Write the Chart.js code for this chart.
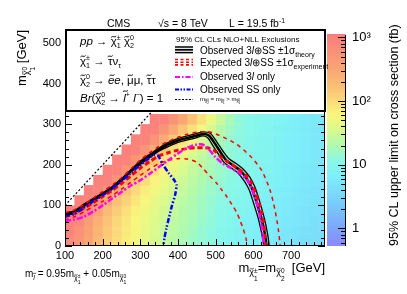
<!DOCTYPE html>
<html>
<head>
<meta charset="utf-8">
<script src="https://cdn.jsdelivr.net/npm/chart.js@4.4.0/dist/chart.umd.min.js"></script>
<style>
  html, body { margin: 0; padding: 0; background: #fff; }
</style>
</head>
<body>
<canvas id="chart" width="407" height="294"></canvas>
<script>
// axis ticks
const xTicks = [100, 200, 300, 400, 500, 600, 700];
const yTicks = [0, 100, 200, 300, 400, 500];
const zTicks = [1, 10, 100, 1000];
const zLabels = ['1', '10', '10²', '10³'];

// heat map cells (lower edges, GeV), 25 GeV wide
const cellX = [100,125,150,175,200,225,250,275,300,325,350,375,400,425,450,475,500,525,550,575,600,625,650,675,700,725,750,775];
const cellY = [0,25,50,75,100,125,150,175,200,225,250,275,300];
const cellSize = 25;
const n = null;
// upper limit on cross section (fb), one row per cellY
const r0   = [750,550,330,200,130,95,72,56,43,34,28,23,19,16,14,12,10,9,8,7,6.5,6,5.5,5,4.5,4.2,4,3.8];
const r25  = [850,600,360,220,140,100,76,59,46,36,29,24,20,17,14,12,10.5,9.5,8.5,7.5,6.8,6.2,5.7,5.2,4.8,4.4,4.1,3.9];
const r50  = [950,750,420,250,160,105,80,62,48,38,31,25,21,18,15,13,11,10,9,8,7,6.4,5.9,5.4,5,4.6,4.3,4];
const r75  = [1000,950,650,330,190,125,90,68,52,41,33,27,22,19,16,13.5,11.5,10.5,9.5,8.5,7.5,6.8,6.2,5.6,5.2,4.8,4.5,4.2];
const r100 = [n,1000,900,600,300,170,115,80,60,46,36,29,24,20,17,14,12,11,10,9,8,7,6.4,5.8,5.4,5,4.6,4.3];
const r125 = [n,n,1000,900,550,270,155,100,72,54,42,33,27,22,18,15,13,11.5,10.5,9.5,8.5,7.5,6.8,6.1,5.6,5.2,4.8,4.5];
const r150 = [n,n,n,1000,900,550,270,145,95,66,50,38,30,24,20,16,14,12,11,10,9,8,7.2,6.5,5.9,5.4,5,4.7];
const r175 = [n,n,n,n,1000,900,550,270,145,90,62,46,35,27,22,18,15,13,11.5,10.5,9.5,8.5,7.6,6.8,6.2,5.6,5.2,4.9];
const r200 = [n,n,n,n,n,1000,900,550,270,145,85,58,42,32,25,19,15,13,11.5,10.5,9.5,8.7,7.8,7,6.4,5.8,5.3,5];
const r225 = [n,n,n,n,n,n,1000,900,550,270,145,85,55,40,29,21,16,13.5,12,10.5,9.5,8.7,7.8,7,6.4,5.8,5.3,5];
const r250 = [n,n,n,n,n,n,n,1000,900,550,280,145,85,55,36,25,18,14,12,10.5,9.5,8.7,7.8,7,6.4,5.8,5.3,5];
const r275 = [n,n,n,n,n,n,n,n,1000,900,550,280,150,90,55,34,22,16,12.5,11,9.8,8.8,8,7.2,6.5,5.9,5.4,5.1];
const r300 = [n,n,n,n,n,n,n,n,n,1000,900,550,300,160,90,50,28,18,13,11,10,9,8.2,7.4,6.7,6,5.5,5.2];
const limitRows = [r0, r25, r50, r75, r100, r125, r150, r175, r200, r225, r250, r275, r300];

// exclusion contours [m_chargino, m_lsp]
const obsCentral = [[100,79],[120,82],[135,90],[150,100],[175,114],[200,128],[225,143],[250,163],[275,185],[300,205],[325,222],[350,238],[375,250],[400,260],[425,266],[450,272],[467,276],[482,272],[498,252],[516,226],[529,210],[547,198],[565,186],[582,166],[596,142],[609,106],[622,66],[631,26],[635,0]];
const obsUp = [[100,82],[120,85],[135,93],[150,103],[175,117],[200,131],[225,146],[250,166],[275,188],[300,209],[325,226],[350,242],[375,255],[400,265],[425,271],[450,277],[467,281],[486,277],[503,256],[522,230],[536,214],[554,203],[572,190],[590,170],[604,145],[617,108],[629,68],[638,28],[642,0]];
const obsDown = [[100,76],[120,79],[135,87],[150,97],[175,111],[200,125],[225,140],[250,160],[275,182],[300,201],[325,218],[350,234],[375,245],[400,255],[425,261],[450,267],[465,271],[478,267],[492,248],[510,222],[522,206],[540,193],[558,181],[575,161],[589,138],[601,104],[614,64],[623,26],[628,0]];
const expCentral = [[100,72],[125,80],[150,93],[175,107],[200,122],[225,137],[250,154],[275,173],[300,192],[325,208],[350,222],[375,230],[400,236],[425,240],[450,242],[470,242],[485,240],[498,234],[515,218],[534,206],[560,190],[580,174],[595,155],[605,131],[615,105],[622,80],[628,50],[631,20],[632,0]];
const expUp = [[100,82],[125,89],[150,102],[175,118],[200,134],[225,150],[250,168],[275,190],[300,212],[325,230],[350,246],[375,258],[400,268],[425,275],[450,280],[480,282],[520,268],[556,250],[591,222],[622,186],[644,138],[657,90],[666,42],[670,10],[671,0]];
const expDown = [[100,64],[125,72],[150,84],[175,97],[200,110],[225,124],[250,140],[275,157],[300,174],[325,190],[350,203],[375,211],[400,215],[425,214],[450,206],[467,190],[485,172],[503,154],[516,138],[529,122],[543,102],[556,82],[565,62],[573,42],[580,20],[584,0]];
const obs3l = [[100,62],[125,65],[150,72],[175,85],[200,100],[225,117],[250,133],[275,149],[300,162],[325,178],[350,195],[375,212],[400,228],[425,242],[450,250],[465,250],[480,240],[498,220],[517,204],[540,192],[565,178],[585,160],[600,130],[612,95],[620,60],[625,25],[627,0]];
const obsSS = [[100,74],[125,79],[150,94],[175,110],[200,125],[225,141],[250,160],[275,180],[300,200],[320,214],[335,224],[347,222],[360,200],[375,180],[390,162],[396,150],[392,125],[384,100],[376,70],[369,43],[364,20],[361,0]];
const diagonal = [[100,100],[520,520]];

const FONT = '"Liberation Sans", Arial, Helvetica, sans-serif';
Chart.defaults.font.family = FONT;
Chart.defaults.color = '#000';

const zStops = [
  [-0.3, [140,135,250]],
  [0.0, [125,165,250]],
  [0.4, [120,205,250]],
  [0.8, [125,238,250]],
  [1.05, [135,248,232]],
  [1.3, [175,250,175]],
  [1.6, [225,250,135]],
  [1.8, [250,245,125]],
  [2.1, [250,205,120]],
  [2.5, [250,165,115]],
  [3.05, [250,125,125]]
];
function zColor(v) {
  const t = Math.log10(v);
  if (t <= zStops[0][0]) return 'rgb(' + zStops[0][1].join(',') + ')';
  for (let i = 1; i < zStops.length; i++) {
    if (t <= zStops[i][0]) {
      const [t0, c0] = zStops[i - 1], [t1, c1] = zStops[i];
      const f = (t - t0) / (t1 - t0);
      return 'rgb(' + c0.map((c, k) => Math.round(c + (c1[k] - c) * f)).join(',') + ')';
    }
  }
  return 'rgb(' + zStops[zStops.length - 1][1].join(',') + ')';
}

// small rich-text helper: parts {t, s, dy, it, tilde} or {stack:[...]}
function partFont(p, size) {
  return (p.it ? 'italic ' : '') + (size * (p.s || 1)).toFixed(2) + 'px ' + FONT;
}
function partW(ctx, p, size) {
  if (p.stack) return Math.max(...p.stack.map(q => partW(ctx, q, size)));
  ctx.font = partFont(p, size);
  return ctx.measureText(p.t).width;
}
function drawPart(ctx, p, x, y, size) {
  if (p.stack) { p.stack.forEach(q => drawPart(ctx, q, x, y, size)); return; }
  ctx.font = partFont(p, size);
  const yy = y + (p.dy || 0) * size;
  ctx.fillText(p.t, x, yy);
  if (p.tilde) {
    const s = size * (p.s || 1), w = ctx.measureText(p.t).width;
    const cx = x + w / 2 + (p.it ? s * 0.08 : 0), cy = yy - s * p.tilde;
    const hw = s * 0.22, a = s * 0.06;
    ctx.beginPath();
    ctx.moveTo(cx - hw, cy + a);
    ctx.bezierCurveTo(cx - hw * 0.5, cy - a * 2.2, cx + hw * 0.5, cy + a * 2.2, cx + hw, cy - a);
    ctx.lineWidth = Math.max(0.7, s * 0.08);
    ctx.setLineDash([]);
    ctx.stroke();
  }
}
function rich(ctx, parts, x, y, size, align) {
  parts = parts.map(p => typeof p === 'string' ? {t: p} : p);
  const total = parts.reduce((acc, p) => acc + partW(ctx, p, size), 0);
  let cx = align === 'right' ? x - total : align === 'center' ? x - total / 2 : x;
  ctx.textBaseline = 'alphabetic';
  ctx.textAlign = 'left';
  parts.forEach(p => { drawPart(ctx, p, cx, y, size); cx += partW(ctx, p, size); });
}
const chi = {t: 'χ', tilde: 0.72};
const sub = (t) => ({t, s: 0.62, dy: 0.3});
const sup = (t) => ({t, s: 0.62, dy: -0.42});
const pm = (a, b) => ({stack: [sup(a), sub(b)]});

const deco = {
  id: 'deco',
  beforeDatasetsDraw(chart) {
    const {ctx, chartArea: a, scales: {x, y}} = chart;
    ctx.save();
    ctx.beginPath();
    ctx.rect(a.left, a.top, a.right - a.left, a.bottom - a.top);
    ctx.clip();
    limitRows.forEach((row, i) => {
      row.forEach((v, j) => {
        if (v == null) return;
        const x0 = x.getPixelForValue(cellX[j]), x1 = x.getPixelForValue(cellX[j] + cellSize);
        const y0 = y.getPixelForValue(cellY[i]), y1 = y.getPixelForValue(cellY[i] + cellSize);
        ctx.fillStyle = zColor(v);
        ctx.fillRect(x0, y1, x1 - x0 + 0.5, y0 - y1 + 0.5);
      });
    });
    ctx.restore();
  },
  afterDraw(chart) {
    const {ctx, chartArea: a, scales: {x, y, z}} = chart;
    ctx.save();
    ctx.strokeStyle = '#000';
    ctx.fillStyle = '#000';
    ctx.setLineDash([]);

    // frame and inward ticks
    ctx.lineWidth = 1;
    ctx.strokeRect(a.left + 0.5, a.top + 0.5, a.right - a.left - 1, a.bottom - a.top - 1);
    ctx.beginPath();
    for (let v = 100; v <= 790; v += 20) {
      const px = Math.round(x.getPixelForValue(v)) + 0.5;
      const len = v % 100 === 0 ? 7 : 4;
      ctx.moveTo(px, a.bottom); ctx.lineTo(px, a.bottom - len);
    }
    for (let v = 0; v <= 520; v += 20) {
      const py = Math.round(y.getPixelForValue(v)) + 0.5;
      const len = v % 100 === 0 ? 7 : 4;
      ctx.moveTo(a.left, py); ctx.lineTo(a.left + len, py);
      ctx.moveTo(a.right, py); ctx.lineTo(a.right - len, py);
    }
    ctx.stroke();

    // colour bar
    const bx0 = a.right + 2, bx1 = a.right + 20;
    for (let py = Math.floor(a.top); py < a.bottom; py++) {
      ctx.fillStyle = zColor(z.getValueForPixel(py + 0.5));
      ctx.fillRect(bx0, py, bx1 - bx0, 1);
    }
    ctx.fillStyle = '#000';
    ctx.beginPath();
    ctx.moveTo(bx1 + 0.5, a.top); ctx.lineTo(bx1 + 0.5, a.bottom);
    for (let d = 0.1; d <= 1000; d *= 10) {
      for (let k = 1; k < 10; k++) {
        const v = d * k;
        if (v < z.min || v > z.max) continue;
        const py = Math.round(z.getPixelForValue(v)) + 0.5;
        const len = k === 1 ? 7 : 4;
        ctx.moveTo(bx1, py); ctx.lineTo(bx1 - len, py);
      }
    }
    ctx.stroke();

    // legend box
    ctx.fillStyle = '#fff';
    ctx.fillRect(a.left, 29, a.right - a.left, 82);
    ctx.lineWidth = 2;
    ctx.strokeRect(a.left + 1, 30, a.right - a.left - 1, 81);
    ctx.fillStyle = '#000';

    // left legend text
    rich(ctx, [{t: 'pp', it: true}, ' → ', chi, pm('±', '1'), ' ', chi, pm('0', '2')], 80, 45, 11.5);
    rich(ctx, [chi, pm('±', '1'), ' → ', {t: 'τ', tilde: 0.72}, 'ν', sub('τ')], 80, 64.5, 11.5);
    rich(ctx, [chi, pm('0', '2'), ' → ', {t: 'e', it: true, tilde: 0.72}, {t: 'e', it: true}, ', ',
               {t: 'μ', tilde: 0.72}, 'μ, ', {t: 'τ', tilde: 0.72}, 'τ'], 80, 83.5, 11.5);
    rich(ctx, [{t: 'Br', it: true}, '(', chi, pm('0', '2'), ' → ', {t: 'l', it: true, tilde: 0.95},
               sup('+'), {t: ' l', it: true}, sup('−'), ') = 1'], 80, 102, 11.5);

    // right legend
    rich(ctx, ['95% CL CLs NLO+NLL Exclusions'], 176, 41.5, 8);
    rich(ctx, ['Observed 3', {t: 'l', it: true}, '⊕SS ±1σ', {t: 'theory', s: 0.7, dy: 0.3}], 200, 53.5, 10);
    rich(ctx, ['Expected 3', {t: 'l', it: true}, '⊕SS ±1σ', {t: 'experiment', s: 0.7, dy: 0.3}], 200, 65.5, 10);
    rich(ctx, ['Observed 3', {t: 'l', it: true}, ' only'], 200, 80, 10);
    rich(ctx, ['Observed SS only'], 200, 93, 10);
    rich(ctx, ['m', {t: 'χ', s: 0.7, dy: 0.3, tilde: 0.72}, {stack: [{t: '0', s: 0.5, dy: 0.05}, {t: '2', s: 0.5, dy: 0.6}]},
               ' = m', {t: 'χ', s: 0.7, dy: 0.3, tilde: 0.72}, {stack: [{t: '±', s: 0.5, dy: 0.05}, {t: '1', s: 0.5, dy: 0.6}]},
               ' > m', {t: 'χ', s: 0.7, dy: 0.3, tilde: 0.72}, {stack: [{t: '0', s: 0.5, dy: 0.05}, {t: '1', s: 0.5, dy: 0.6}]}],
         200, 100.5, 6);

    // legend samples
    const sx0 = 175, sx1 = 193;
    const seg = (yy, color, w, dash) => {
      ctx.beginPath(); ctx.strokeStyle = color; ctx.lineWidth = w; ctx.setLineDash(dash);
      ctx.moveTo(sx0, yy); ctx.lineTo(sx1, yy); ctx.stroke();
    };
    seg(47, '#000', 1.5, []); seg(49.8, '#000', 1.8, []); seg(52.6, '#000', 1.5, []);
    seg(59.5, '#f00', 1.6, [3, 2.5]); seg(62.2, '#f00', 1.6, [3, 2.5]); seg(64.9, '#f00', 1.6, [3, 2.5]);
    seg(77, '#f0f', 2, [5, 2, 1.5, 2]);
    seg(89.5, '#00f', 2, [4, 1.5, 1.5, 1.5, 1.5, 1.5]);
    seg(99.5, '#000', 1, [2, 1.5]);
    ctx.setLineDash([]);
    ctx.strokeStyle = '#000';
    ctx.fillStyle = '#000';

    // header
    rich(ctx, ['CMS'], 107, 27, 10.5);
    rich(ctx, ['√s = 8 TeV'], 158, 27, 10.5);
    rich(ctx, ['L = 19.5 fb', {t: '-1', s: 0.65, dy: -0.4}], 229, 27, 10.5);

    // x title
    rich(ctx, ['m', {t: 'χ', s: 0.7, dy: 0.3, tilde: 0.72}, {stack: [{t: '±', s: 0.5, dy: 0.1}, {t: '1', s: 0.5, dy: 0.7}]},
               '=m', {t: 'χ', s: 0.7, dy: 0.3, tilde: 0.72}, {stack: [{t: '0', s: 0.5, dy: 0.1}, {t: '2', s: 0.5, dy: 0.7}]},
               '  [GeV]'], 325, 271.5, 13, 'right');

    // y title
    ctx.save();
    ctx.translate(25.5, 30);
    ctx.rotate(-Math.PI / 2);
    rich(ctx, ['m', {t: 'χ', s: 0.7, dy: 0.3, tilde: 0.72}, {stack: [{t: '0', s: 0.5, dy: 0.1}, {t: '1', s: 0.5, dy: 0.7}]},
               ' [GeV]'], 0, 0, 13, 'right');
    ctx.restore();

    // z title
    ctx.save();
    ctx.translate(398, a.bottom);
    ctx.rotate(-Math.PI / 2);
    rich(ctx, ['95% CL upper limit on cross section (fb)'], 0, 0, 12.5, 'left');
    ctx.restore();

    // slepton mass relation
    rich(ctx, ['m', {t: 'l', s: 0.7, dy: 0.3, it: true, tilde: 0.95}, ' = 0.95m',
               {t: 'χ', s: 0.7, dy: 0.3, tilde: 0.72}, {stack: [{t: '±', s: 0.5, dy: 0.1}, {t: '1', s: 0.5, dy: 0.7}]},
               ' + 0.05m',
               {t: 'χ', s: 0.7, dy: 0.3, tilde: 0.72}, {stack: [{t: '0', s: 0.5, dy: 0.1}, {t: '1', s: 0.5, dy: 0.7}]}],
         25, 277, 10);
    ctx.restore();
  }
};

function curve(pts, color, width, dash) {
  return {
    data: pts.map(p => ({x: p[0], y: p[1]})),
    borderColor: color,
    borderWidth: width,
    borderDash: dash,
    pointRadius: 0,
    tension: 0.25,
    fill: false
  };
}

new Chart(document.getElementById('chart'), {
  type: 'line',
  data: {
    datasets: [
      curve(diagonal, '#000', 1.2, [2, 2]),
      curve(obsSS, '#00f', 2.5, [5, 2, 1.5, 2, 1.5, 2]),
      curve(obs3l, '#f0f', 2.5, [6, 2, 2, 2]),
      curve(expCentral, '#f00', 3, [5, 3]),
      curve(expUp, '#f00', 1.5, [4, 4]),
      curve(expDown, '#f00', 1.5, [4, 4]),
      curve(obsCentral, '#000', 2.5, []),
      curve(obsUp, '#000', 1.3, []),
      curve(obsDown, '#000', 1.3, [])
    ]
  },
  options: {
    responsive: false,
    animation: false,
    layout: {padding: {top: 30, left: 0, right: 0, bottom: 0}},
    plugins: {legend: {display: false}, tooltip: {enabled: false}},
    scales: {
      x: {
        type: 'linear', min: 100, max: 790,
        afterBuildTicks: s => { s.ticks = xTicks.map(v => ({value: v})); },
        afterFit: s => { s.height = 48; },
        grid: {display: false, drawTicks: false},
        border: {display: false},
        ticks: {padding: 3, maxRotation: 0, autoSkip: false, font: {size: 11}, color: '#000'}
      },
      y: {
        type: 'linear', min: 0, max: 520,
        afterBuildTicks: s => { s.ticks = yTicks.map(v => ({value: v})); },
        afterFit: s => { s.width = 65; },
        grid: {display: false, drawTicks: false},
        border: {display: false},
        ticks: {padding: 4, autoSkip: false, font: {size: 11}, color: '#000'}
      },
      z: {
        type: 'logarithmic', position: 'right', min: 0.53, max: 1100,
        afterBuildTicks: s => { s.ticks = zTicks.map(v => ({value: v})); },
        afterFit: s => { s.width = 82; },
        grid: {display: false, drawTicks: false},
        border: {display: false},
        ticks: {padding: 27, autoSkip: false, font: {size: 13}, color: '#000',
                callback: v => zLabels[zTicks.indexOf(v)]}
      }
    }
  },
  plugins: [deco]
});
</script>
</body>
</html>
